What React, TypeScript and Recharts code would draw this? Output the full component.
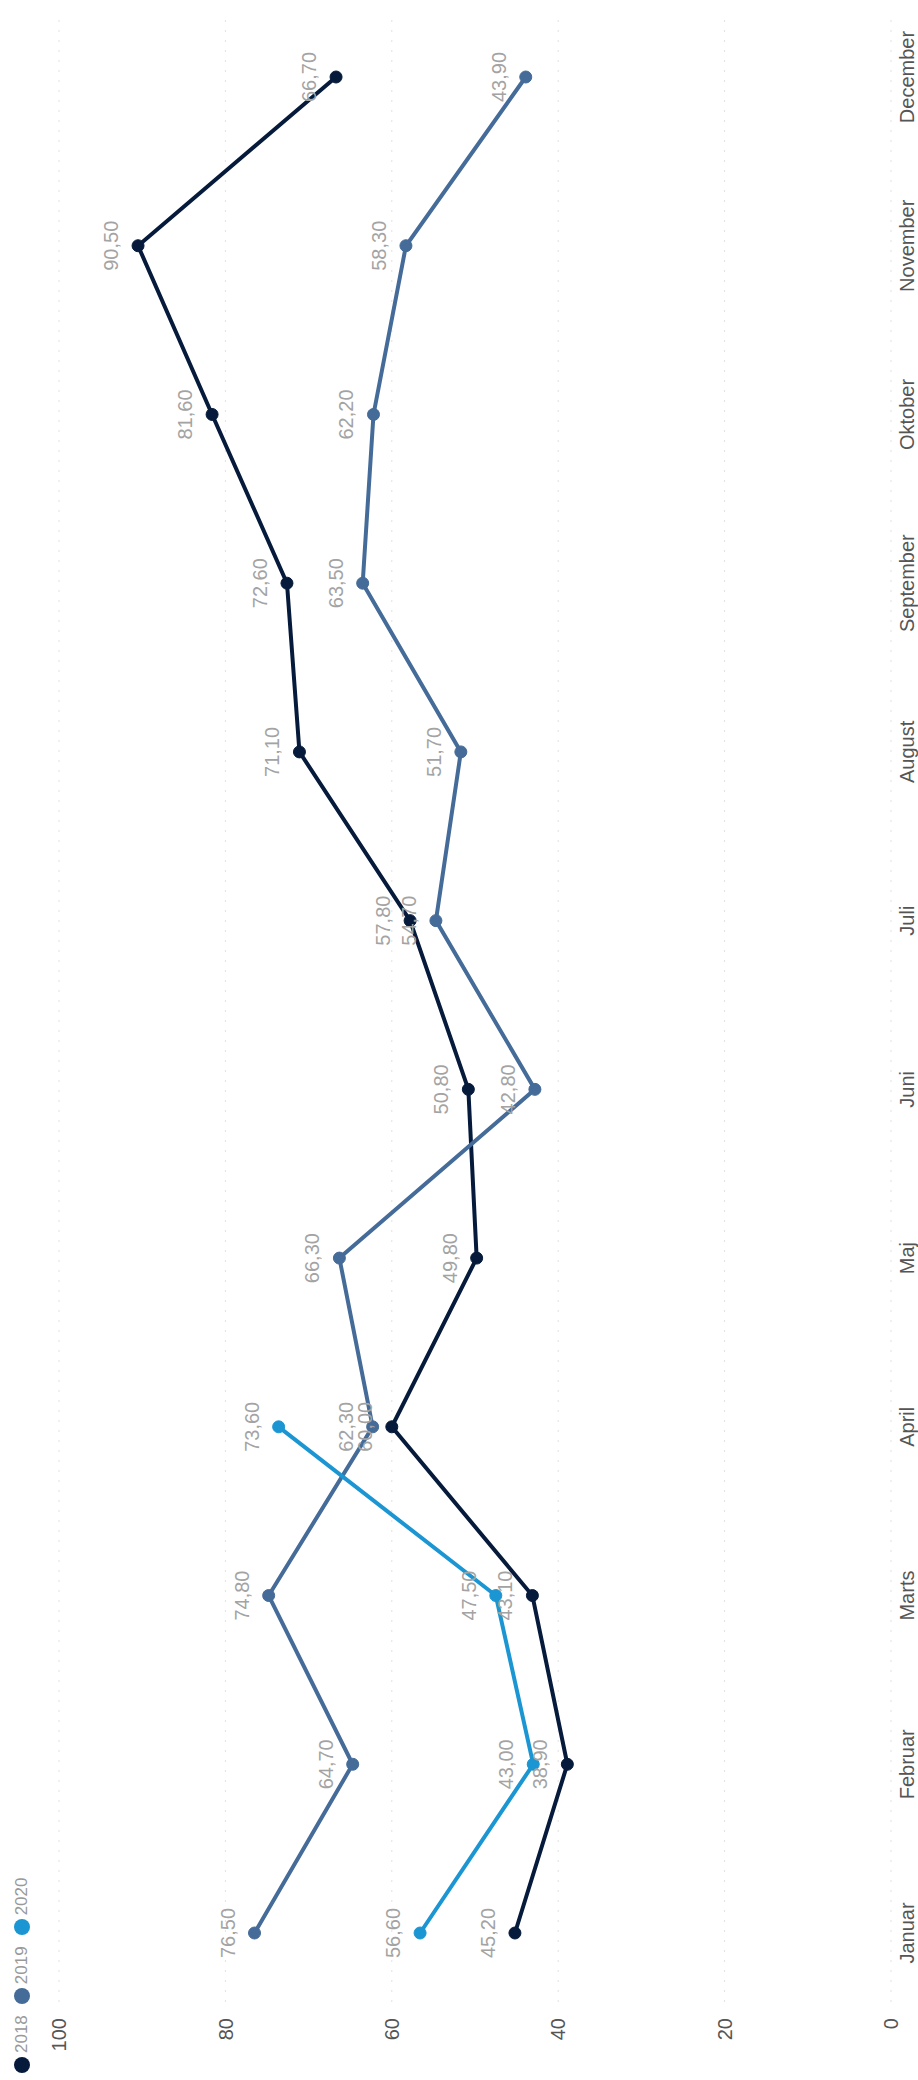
import { LineChart, Line, XAxis, YAxis, CartesianGrid, Legend, LabelList } from 'recharts';

const FONT = '"Liberation Sans", Arial, sans-serif';

const months = ['Januar', 'Februar', 'Marts', 'April', 'Maj', 'Juni', 'Juli', 'August', 'September', 'Oktober', 'November', 'December'];
const values2018 = [45.2, 38.9, 43.1, 60.0, 49.8, 50.8, 57.8, 71.1, 72.6, 81.6, 90.5, 66.7];
const values2019 = [76.5, 64.7, 74.8, 62.3, 66.3, 42.8, 54.7, 51.7, 63.5, 62.2, 58.3, 43.9];
const values2020 = [56.6, 43.0, 47.5, 73.6, null, null, null, null, null, null, null, null];
const yTicks = [0, 20, 40, 60, 80, 100];

const series = [
    { key: 'y2018', name: '2018', color: '#061b3b' },
    { key: 'y2019', name: '2019', color: '#456b99' },
    { key: 'y2020', name: '2020', color: '#1b96d3' },
];

const data = months.map((m, i) => ({
    month: m,
    y2018: values2018[i],
    y2019: values2019[i],
    y2020: values2020[i],
}));

const fmt = (v: any) => (v == null ? '' : Number(v).toFixed(2).replace('.', ','));

function LegendContent() {
    return (
        <div style={{ display: 'flex', alignItems: 'center', fontFamily: FONT, fontSize: 17, color: '#999' }}>
            {series.map((s) => (
                <div key={s.key} style={{ display: 'flex', alignItems: 'center', marginRight: 11 }}>
                    <span style={{ width: 16, height: 16, borderRadius: '50%', background: s.color, marginRight: 4, display: 'inline-block' }} />
                    <span>{s.name}</span>
                </div>
            ))}
        </div>
    );
}

export default function App() {
    return (
        <div style={{ position: 'absolute', left: 0, top: 0, width: 918, height: 2080, overflow: 'hidden', background: '#fff' }}>
            {/* chart is drawn landscape and turned a quarter turn counter-clockwise */}
            <div
                style={{
                    position: 'absolute',
                    left: 0,
                    top: 0,
                    width: 2080,
                    height: 918,
                    transformOrigin: 'top left',
                    transform: 'translateY(2080px) rotate(-90deg)',
                }}
            >
                <LineChart width={2080} height={918} data={data} margin={{ top: 59, right: 13, bottom: 0, left: 0 }}>
                    <CartesianGrid vertical={false} stroke="#e2e2e2" strokeDasharray="2 8" />
                    <XAxis
                        dataKey="month"
                        axisLine={false}
                        tickLine={false}
                        height={27}
                        tickMargin={3}
                        padding={{ left: 69, right: 64 }}
                        tick={{ fontSize: 20, fill: '#555', fontFamily: FONT }}
                        interval={0}
                    />
                    <YAxis
                        domain={[0, 100]}
                        ticks={yTicks}
                        width={58}
                        axisLine={false}
                        tickLine={false}
                        tickMargin={10}
                        tick={{ fontSize: 20, fill: '#555', fontFamily: FONT }}
                    />
                    <Legend
                        verticalAlign="middle"
                        align="left"
                        layout="horizontal"
                        wrapperStyle={{ top: 12, left: 7, width: 'auto' }}
                        content={() => <LegendContent />}
                    />
                    {series.map((s) => (
                        <Line
                            key={s.key}
                            dataKey={s.key}
                            name={s.name}
                            type="linear"
                            stroke={s.color}
                            strokeWidth={4}
                            dot={{ r: 6, fill: s.color, stroke: s.color, strokeWidth: 1 }}
                            activeDot={false}
                            isAnimationActive={false}
                        >
                            <LabelList
                                dataKey={s.key}
                                position="top"
                                offset={20}
                                formatter={fmt}
                                style={{ fontSize: 20, fill: '#a3a3a3', fontFamily: FONT }}
                            />
                        </Line>
                    ))}
                </LineChart>
            </div>
        </div>
    );
}
